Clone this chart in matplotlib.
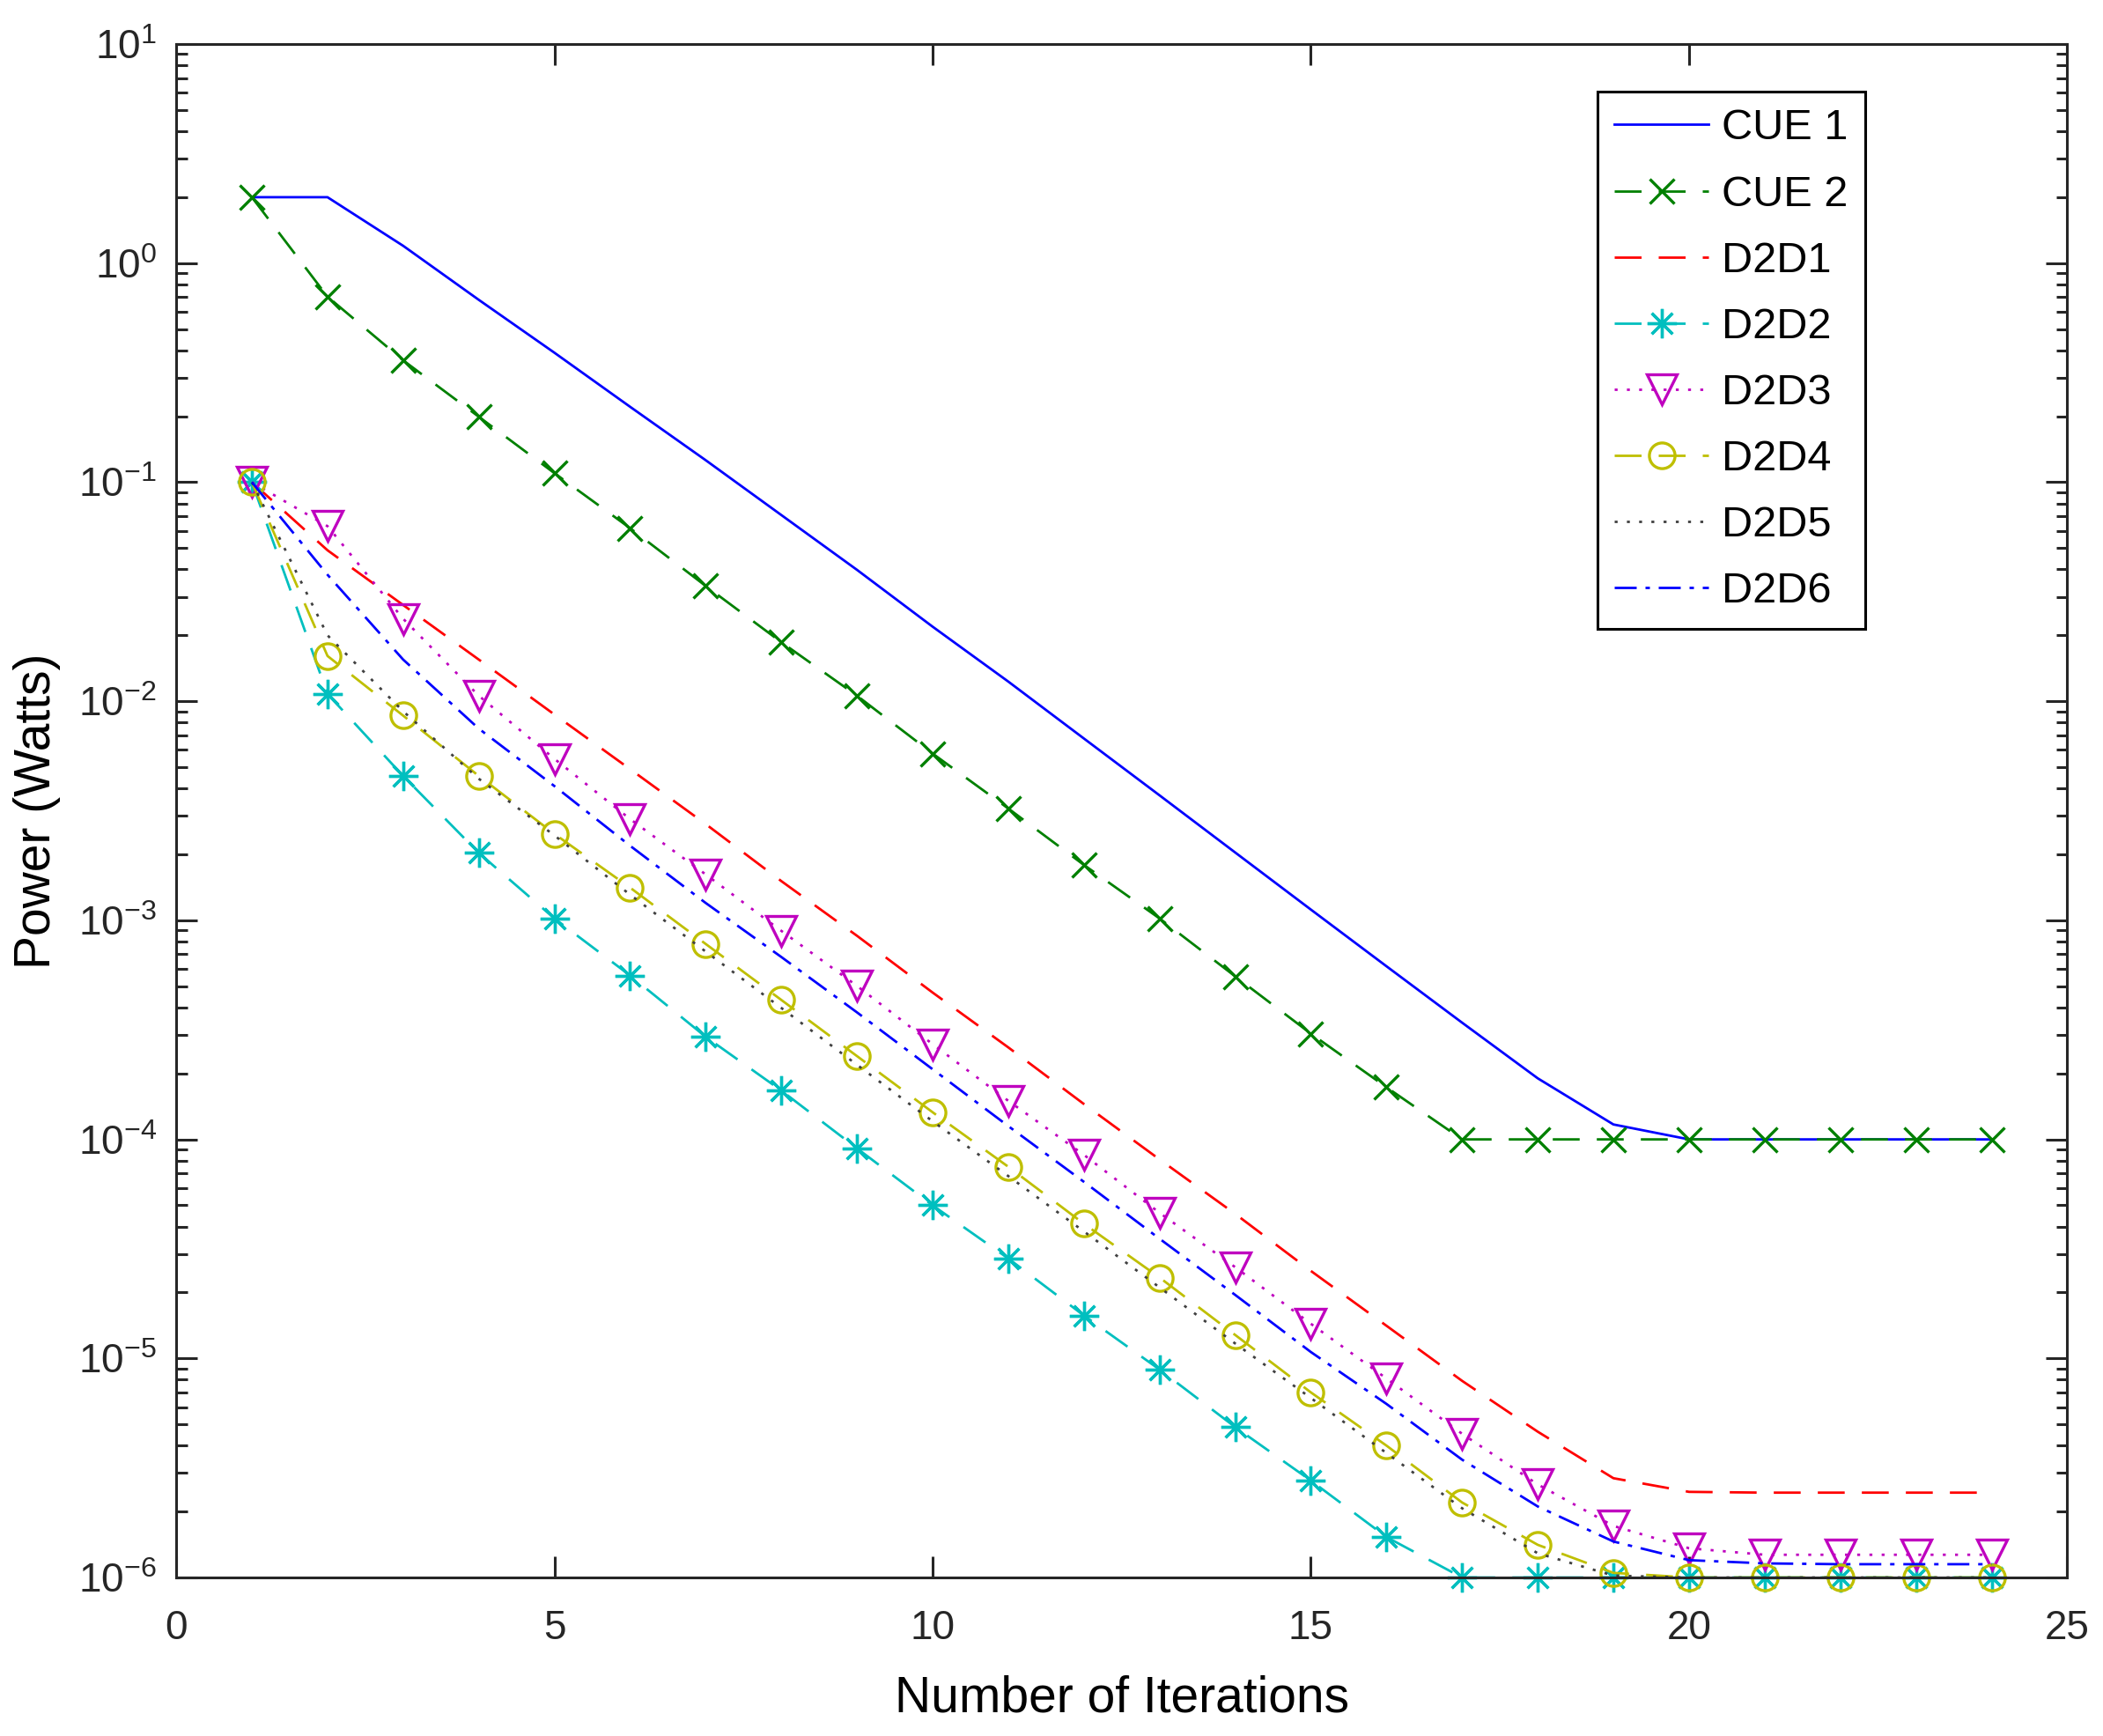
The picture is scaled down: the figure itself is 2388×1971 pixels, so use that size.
import numpy as np
import matplotlib

matplotlib.use("Agg")
import matplotlib.pyplot as plt
from matplotlib.ticker import LogLocator, NullFormatter, MultipleLocator, FuncFormatter

plt.rcParams["font.family"] = ["Liberation Sans", "DejaVu Sans"]
plt.rcParams["mathtext.default"] = "regular"
plt.rcParams["axes.unicode_minus"] = False

# data
iterations = list(range(1, 25))

cue1 = [2.0, 2.0, 1.20, 0.68, 0.39, 0.221, 0.126, 0.0708, 0.0398, 0.0219,
        0.0123, 0.00676, 0.00372, 0.00204, 0.00112, 6.17e-4, 3.41e-4, 1.90e-4,
        1.17e-4, 1e-4, 1e-4, 1e-4, 1e-4, 1e-4]
cue2 = [2.0, 0.703, 0.360, 0.199, 0.110, 0.0617, 0.0336, 0.0186, 0.0106,
        0.00577, 0.00324, 0.00179, 0.00102, 5.55e-4, 3.04e-4, 1.73e-4, 1e-4,
        1e-4, 1e-4, 1e-4, 1e-4, 1e-4, 1e-4, 1e-4]
d2d1 = [0.1, 0.0489, 0.0275, 0.0155, 0.0087, 0.0049, 0.00275, 0.00151, 8.5e-4,
        4.68e-4, 2.63e-4, 1.45e-4, 8.1e-5, 4.57e-5, 2.51e-5, 1.41e-5, 7.9e-6,
        4.63e-6, 2.84e-6, 2.46e-6, 2.44e-6, 2.44e-6, 2.44e-6, 2.44e-6]
d2d2 = [0.1, 0.0108, 0.00456, 0.00203, 0.00102, 5.6e-4, 2.94e-4, 1.67e-4,
        9.1e-5, 5.0e-5, 2.86e-5, 1.57e-5, 8.9e-6, 4.86e-6, 2.77e-6, 1.53e-6,
        1e-6, 1e-6, 1e-6, 1e-6, 1e-6, 1e-6, 1e-6, 1e-6]
d2d3 = [0.1, 0.063, 0.0238, 0.0106, 0.00546, 0.0029, 0.00162, 8.95e-4, 5.02e-4,
        2.72e-4, 1.50e-4, 8.5e-5, 4.62e-5, 2.61e-5, 1.44e-5, 8.1e-6, 4.53e-6,
        2.66e-6, 1.72e-6, 1.36e-6, 1.27e-6, 1.27e-6, 1.27e-6, 1.27e-6]
d2d4 = [0.1, 0.0161, 0.0086, 0.00456, 0.00248, 0.00141, 7.8e-4, 4.33e-4,
        2.40e-4, 1.33e-4, 7.5e-5, 4.12e-5, 2.34e-5, 1.28e-5, 7.0e-6, 4.0e-6,
        2.2e-6, 1.41e-6, 1.05e-6, 1e-6, 1e-6, 1e-6, 1e-6, 1e-6]
d2d5 = [0.1, 0.020, 0.0090, 0.00443, 0.00244, 0.00131, 7.2e-4, 3.98e-4,
        2.19e-4, 1.21e-4, 6.8e-5, 3.8e-5, 2.11e-5, 1.17e-5, 6.6e-6, 3.7e-6,
        2.07e-6, 1.29e-6, 1.02e-6, 1e-6, 1e-6, 1e-6, 1e-6, 1e-6]
d2d6 = [0.1, 0.0378, 0.0155, 0.0075, 0.0041, 0.00219, 0.0012, 6.8e-4, 3.8e-4,
        2.09e-4, 1.15e-4, 6.4e-5, 3.52e-5, 1.95e-5, 1.07e-5, 6.2e-6, 3.45e-6,
        2.11e-6, 1.46e-6, 1.20e-6, 1.16e-6, 1.15e-6, 1.15e-6, 1.15e-6]

labels = ["CUE 1", "CUE 2", "D2D1", "D2D2", "D2D3", "D2D4", "D2D5", "D2D6"]

AX_COLOR = "#262626"
LW = 2.0
DASHED = (11, 7)
DOTTED = (1.2, 3.8)
DASHDOT = (9, 3.6, 1.8, 3.6)

styles = [
    dict(color=(0, 0, 1), linestyle="-"),
    dict(color=(0, 0.5, 0), dashes=DASHED, marker="x", markersize=20),
    dict(color=(1, 0, 0), dashes=DASHED),
    dict(color=(0, 0.75, 0.75), dashes=DASHED, marker=(8, 2, 0), markersize=24),
    dict(color=(0.75, 0, 0.75), dashes=DOTTED, marker="v", markersize=24),
    dict(color=(0.75, 0.75, 0), dashes=DASHED, marker="o", markersize=21),
    dict(color=(0.25, 0.25, 0.25), dashes=DOTTED),
    dict(color=(0, 0, 1), dashes=DASHDOT),
]
series = [cue1, cue2, d2d1, d2d2, d2d3, d2d4, d2d5, d2d6]


def power_label(value, pos):
    return r"$\mathregular{10^{%d}}$" % round(np.log10(value))


fig = plt.figure(figsize=(23.88, 19.71), dpi=100)
ax = fig.add_axes([0.0838, 0.0913, 0.8992, 0.8833])

for values, label, style in zip(series, labels, styles):
    ax.plot(
        iterations,
        values,
        label=label,
        linewidth=LW,
        markerfacecolor="none",
        markeredgewidth=2.4,
        clip_on=False,
        **style,
    )

ax.set_yscale("log")
ax.set_xlim(0, 25)
ax.set_ylim(1e-6, 10)
ax.xaxis.set_major_locator(MultipleLocator(5))
ax.yaxis.set_major_locator(LogLocator(base=10, numticks=20))
ax.yaxis.set_major_formatter(FuncFormatter(power_label))
ax.yaxis.set_minor_locator(LogLocator(base=10, subs=np.arange(2, 10), numticks=20))
ax.yaxis.set_minor_formatter(NullFormatter())

for spine in ax.spines.values():
    spine.set_linewidth(2.2)
    spine.set_color(AX_COLOR)

ax.tick_params(which="both", direction="in", top=True, right=True,
               color=AX_COLOR, width=2.2, labelcolor=AX_COLOR, labelsize=33)
ax.tick_params(which="major", length=17)
ax.tick_params(which="minor", length=9)
ax.tick_params(axis="x", pad=26)
ax.tick_params(axis="y", pad=16)

ax.set_xlabel("Number of Iterations", fontsize=41, labelpad=22)
ax.set_ylabel("Power (Watts)", fontsize=41, labelpad=14)

leg = ax.legend(
    loc="upper right",
    bbox_to_anchor=(0.893, 0.969),
    fontsize=35,
    numpoints=1,
    handlelength=2.2,
    handletextpad=0.3,
    labelspacing=0.62,
    borderpad=0.4,
    borderaxespad=0,
    fancybox=False,
    framealpha=1,
    edgecolor="black",
)
leg.get_frame().set_linewidth(2.2)

fig.savefig("out.png", dpi=100)
